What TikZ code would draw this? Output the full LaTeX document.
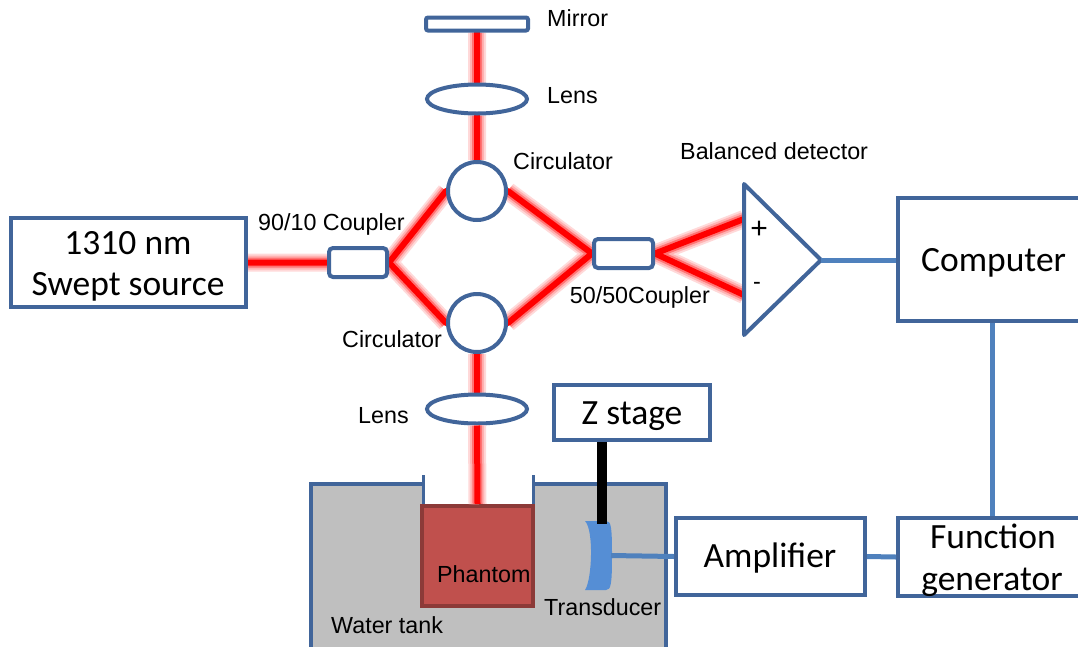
\documentclass[tikz,border=0pt]{standalone}
\usepackage{fontspec}
\setmainfont{Liberation Sans}
\newfontfamily\boxfont{Carlito}
\usetikzlibrary{backgrounds}
\usetikzlibrary{shapes.geometric}
\definecolor{edgeblue}{HTML}{41659A}
\definecolor{linkblue}{HTML}{4F81BD}
\definecolor{probeblue}{HTML}{558ED5}
\definecolor{tankgray}{HTML}{BFBFBF}
\definecolor{phantomred}{HTML}{C0504D}
\definecolor{phantomedge}{HTML}{8C3A38}
\tikzset{
  bigbox/.style={draw=edgeblue, line width=4pt, fill=white, rectangle, inner sep=0pt, align=center, font=\boxfont\fontsize{35.5}{42}\selectfont},
  coupler/.style={draw=edgeblue, line width=4pt, fill=white, rectangle, rounded corners=4pt, inner sep=0pt},
  circulator/.style={draw=edgeblue, line width=4pt, fill=white, circle, inner sep=0pt, minimum size=58pt},
  lens/.style={draw=edgeblue, line width=4pt, fill=white, ellipse, inner sep=0pt, minimum width=100pt, minimum height=29pt},
  lbl/.style={inner sep=0pt, font=\fontsize{23.3}{26}\selectfont},
  boxlbl/.style={inner sep=0pt, font=\boxfont\fontsize{35.5}{42}\selectfont},
  beam/.style={red, line width=6pt, line cap=round, preaction={draw, red!15, line width=18pt}, preaction={draw, red!30, line width=14pt}, preaction={draw, red!55, line width=10pt}},
  link/.style={linkblue, line width=5pt}
}
\begin{document}
\begin{tikzpicture}[x=1pt, y=-1pt]
  \useasboundingbox (0, 0) rectangle (1078, 646);

  \fill [tankgray] (311, 484) -- (423, 484) -- (423, 506) -- (533, 506) -- (533, 484) -- (666, 484) -- (666, 652) -- (311, 652) -- cycle;
  \draw [edgeblue, line width=4pt] (423, 484) -- (311, 484) -- (311, 652) (666, 652) -- (666, 484) -- (533, 484);
  \draw [edgeblue, line width=3pt] (423, 475) -- (423, 506) (533, 475) -- (533, 506);

  \node [bigbox, minimum width=235pt, minimum height=89pt] (source) at (128.5, 262.5) {};
  \node [coupler, minimum width=58pt, minimum height=29pt] (couplerin) at (358, 262.5) {};
  \node [coupler, minimum width=59pt, minimum height=29pt] (couplerout) at (623.5, 253.5) {};
  \node [circulator] (circtop) at (477, 191) {};
  \node [circulator] (circbottom) at (477, 323) {};
  \node [coupler, rounded corners=2pt, minimum width=102pt, minimum height=13pt] (mirror) at (477, 24) {};
  \node [lens] (lenstop) at (477, 99) {};
  \node [lens] (lensbottom) at (477, 409) {};
  \node [draw=phantomedge, line width=4pt, fill=phantomred, rectangle, inner sep=0pt, minimum width=111pt, minimum height=100pt] (phantom) at (477.5, 556) {};
  \node [bigbox, minimum width=156pt, minimum height=55pt] (zstage) at (632, 412.5) {};
  \node [bigbox, minimum width=189pt, minimum height=77pt] (amplifier) at (770.5, 556.5) {};
  \node [bigbox, minimum width=190pt, minimum height=123pt] (computer) at (993, 259.5) {};
  \node [bigbox, minimum width=190pt, minimum height=78pt] (generator) at (993, 557) {};

  \draw [edgeblue, line width=4pt, line join=round, fill=white] (744, 184) -- (744, 335) -- (821, 260) -- cycle;
  \coordinate (detplus) at (744, 219);
  \coordinate (detminus) at (744, 295);
  \coordinate (detout) at (821, 260);

  \begin{scope}[on background layer]
    \draw [beam] (source.east) -- (couplerin.west)
      (circtop.west) -- (couplerin.east) -- (circbottom.west)
      (circtop.east) -- (couplerout.west) -- (circbottom.east)
      (detplus) -- (couplerout.east) -- (detminus)
      (mirror) -- (lenstop) -- (circtop)
      (circbottom) -- (lensbottom);
  \end{scope}
  \draw [beam, line cap=butt] (lensbottom.south) -- (phantom.north);

  \fill [probeblue] (585, 521) -- (606, 521) .. controls (611, 521) and (612, 526) .. (612, 555) .. controls (612, 584) and (611, 590) .. (606, 590) -- (585, 590) .. controls (592, 580) and (594, 530) .. (585, 521) -- cycle;
  \coordinate (probeback) at (611, 555.5);
  \coordinate (probetop) at (602, 524);

  \draw [black, line width=10pt] (zstage.south -| probetop) -- (probetop);
  \draw [link] (probeback) -- (amplifier.west);
  \draw [link] (amplifier.east) -- (generator.west);
  \draw [link] (detout) -- (detout -| computer.west);
  \draw [link] (computer.south) ++(-1, 0) -- (generator.north -| 992, 0);

  \node [boxlbl] (sourcelabelone) at (128, 243) {1310 nm};
  \node [boxlbl] (sourcelabeltwo) at (128, 287) {Swept source};
  \node [boxlbl, text depth=0pt] (zstagelabel) at (632, 413) {Z stage};
  \node [boxlbl] (amplifierlabel) at (770, 558) {Amplifier};
  \node [boxlbl, anchor=west] (computerlabel) at (921, 263) {Computer};
  \node [boxlbl] (generatorlabelone) at (993, 536) {Function};
  \node [boxlbl] (generatorlabeltwo) at (992, 582) {generator};

  \node [lbl, anchor=west] (mirrorlabel) at (547, 18) {Mirror};
  \node [lbl, anchor=west] (lenstoplabel) at (547, 96) {Lens};
  \node [lbl, anchor=west] (circtoplabel) at (513, 161) {Circulator};
  \node [lbl, anchor=west] (detectorlabel) at (680, 151) {Balanced detector};
  \node [lbl, anchor=west] (couplerinlabel) at (258, 224) {90/10 Coupler};
  \node [lbl, anchor=west] (circbottomlabel) at (342, 339) {Circulator};
  \node [lbl, anchor=east] (coupleroutlabel) at (710, 297) {50/50Coupler};
  \node [lbl, anchor=west] (lensbottomlabel) at (358, 416) {Lens};
  \node [lbl, anchor=west] (phantomlabel) at (437, 574) {Phantom};
  \node [lbl, anchor=west] (probelabel) at (544, 607) {Transducer};
  \node [lbl, anchor=west] (tanklabel) at (331, 625) {Water tank};
  \node [inner sep=0pt, font=\fontsize{30}{30}\selectfont] (pluslabel) at (759, 230) {+};
  \node [lbl] (minuslabel) at (757, 286) {-};
\end{tikzpicture}
\end{document}
